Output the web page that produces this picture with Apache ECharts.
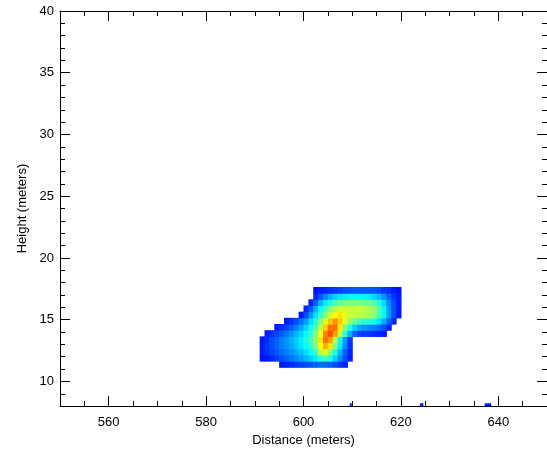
<!DOCTYPE html>
<html><head><meta charset="utf-8">
<script src="https://cdn.jsdelivr.net/npm/echarts@6/dist/echarts.min.js"></script>
<style>html,body{margin:0;padding:0;background:#fff}#c{width:547px;height:452px}</style>
</head><body><div id="c"></div>
<script>
// ---------- data ----------
const xMajorTicks = [560, 580, 600, 620, 640];
const yMajorTicks = [10, 15, 20, 25, 30, 35, 40];
const xRange = [550, 650];
const yRange = [8, 40];

// grid cell centers (meters) of the intensity field
const xCenters = [590.5,591.5,592.5,593.5,594.5,595.5,596.5,597.5,598.5,599.5,
                  600.5,601.5,602.5,603.5,604.5,605.5,606.5,607.5,608.5,609.5,
                  610.5,611.5,612.5,613.5,614.5,615.5,616.5,617.5,618.5,619.5];
const yCenters = [11.4,11.9,12.4,12.9,13.4,13.9,14.4,14.9,15.4,15.9,16.4,16.9,17.4];
const cellW = 1.0, cellH = 0.5;

const _ = null;
// normalized intensity, one array per height row (bottom to top)
const row11_4 = [_,_,_,_,_,.15,.16,.17,.18,.19,.20,.21,.22,.23,.23,.22,.20,.18,.16,_,_,_,_,_,_,_,_,_,_,_];
const row11_9 = [_,.14,.15,.16,.18,.20,.22,.24,.26,.28,.30,.33,.36,.42,.44,.40,.33,.26,.20,.15,_,_,_,_,_,_,_,_,_,_];
const row12_4 = [_,.15,.17,.19,.21,.23,.25,.27,.29,.31,.34,.38,.43,.55,.60,.50,.40,.30,.22,.16,_,_,_,_,_,_,_,_,_,_];
const row12_9 = [_,.15,.18,.20,.22,.25,.27,.29,.32,.35,.38,.43,.50,.62,.70,.65,.50,.36,.26,.17,_,_,_,_,_,_,_,_,_,_];
const row13_4 = [_,.15,.17,.20,.22,.25,.27,.30,.33,.36,.40,.45,.52,.65,.77,.72,.55,.40,.28,.18,_,_,_,_,_,_,_,_,_,_];
const row13_9 = [_,_,.15,.17,.19,.21,.24,.27,.30,.33,.37,.42,.50,.62,.75,.80,.72,.56,.42,.30,.22,.19,.18,.18,.17,.16,.15,_,_,_];
const row14_4 = [_,_,_,_,.15,.17,.19,.22,.25,.29,.33,.39,.46,.56,.67,.77,.77,.64,.50,.40,.33,.29,.27,.26,.25,.23,.20,.15,_,_];
const row14_9 = [_,_,_,_,_,_,.15,.17,.20,.24,.28,.34,.41,.50,.60,.68,.73,.68,.60,.52,.47,.44,.42,.41,.39,.35,.29,.22,.16,_];
const row15_4 = [_,_,_,_,_,_,_,_,_,.15,.20,.27,.35,.43,.50,.58,.63,.65,.60,.57,.56,.56,.55,.54,.51,.45,.37,.28,.20,.15];
const row15_9 = [_,_,_,_,_,_,_,_,_,_,.16,.22,.30,.38,.45,.50,.55,.58,.58,.57,.57,.57,.56,.55,.52,.46,.37,.28,.20,.15];
const row16_4 = [_,_,_,_,_,_,_,_,_,_,_,.16,.22,.30,.36,.41,.45,.48,.49,.50,.50,.50,.49,.48,.46,.41,.34,.26,.20,.15];
const row16_9 = [_,_,_,_,_,_,_,_,_,_,_,_,.16,.21,.26,.30,.33,.35,.36,.37,.37,.37,.37,.36,.34,.31,.27,.22,.18,.15];
const row17_4 = [_,_,_,_,_,_,_,_,_,_,_,_,.14,.15,.16,.17,.18,.19,.20,.20,.21,.21,.21,.21,.21,.20,.18,.17,.15,.14];
const fieldRows = [row11_4,row11_9,row12_4,row12_9,row13_4,row13_9,row14_4,row14_9,row15_4,row15_9,row16_4,row16_9,row17_4];

// small isolated returns near the ground
const speckX = [609.65, 624.2, 637.8];
const speckW = [0.3, 0.6, 1.2];
const speckY = [8.13, 8.13, 8.13];
const speckH = [0.2, 0.2, 0.2];
const speckV = [0.15, 0.15, 0.15];

// ---------- build ----------
const cells = [];
fieldRows.forEach((row, j) => {
  row.forEach((v, i) => {
    if (v !== null) cells.push([xCenters[i], yCenters[j], v, cellW, cellH]);
  });
});
speckX.forEach((x, k) => cells.push([x, speckY[k], speckV[k], speckW[k], speckH[k]]));

const jet = ['#000080','#0000ff','#0080ff','#00ffff','#80ff80','#ffff00','#ff8000','#ff0000','#800000'];

function renderItem(params, api) {
  const x = api.value(0), y = api.value(1), w = api.value(3), h = api.value(4);
  const p0 = api.coord([x - w / 2, y + h / 2]);
  const p1 = api.coord([x + w / 2, y - h / 2]);
  return {
    type: 'rect',
    shape: { x: p0[0], y: p0[1], width: p1[0] - p0[0] + 0.6, height: p1[1] - p0[1] + 0.6 },
    style: { fill: api.visual('color') }
  };
}

const font = { fontFamily: 'Liberation Sans', fontSize: 13, color: '#000' };
const line = { show: true, lineStyle: { color: '#000', width: 1 } };

function axisPair(pos, range, majors, minorInterval, withLabels, labelMargin, name, nameGap) {
  const major = {
    type: 'value', position: pos, min: range[0], max: range[1],
    axisLine: line,
    axisTick: { show: true, inside: true, length: 10, customValues: majors, lineStyle: { color: '#000', width: 1 } },
    axisLabel: withLabels ? Object.assign({ show: true, customValues: majors, margin: labelMargin }, font) : { show: false },
    splitLine: { show: false }
  };
  if (name) {
    major.name = name;
    major.nameLocation = 'middle';
    major.nameGap = nameGap;
    major.nameTextStyle = { fontFamily: 'Liberation Sans', fontSize: 13, color: '#000' };
  }
  const minor = {
    type: 'value', position: pos, min: range[0], max: range[1], interval: minorInterval,
    axisLine: { show: false },
    axisTick: { show: true, inside: true, length: 5, lineStyle: { color: '#000', width: 1 } },
    axisLabel: { show: false },
    splitLine: { show: false }
  };
  return [major, minor];
}

const xAxes = axisPair('bottom', xRange, xMajorTicks, 5, true, 10, 'Distance (meters)', 22)
  .concat(axisPair('top', xRange, xMajorTicks, 5, false));
const yAxes = axisPair('left', yRange, yMajorTicks, 1, true, 6, 'Height (meters)', 31)
  .concat(axisPair('right', yRange, yMajorTicks, 1, false));

const chart = echarts.init(document.getElementById('c'), null, { renderer: 'canvas' });
chart.setOption({
  animation: false,
  backgroundColor: '#fff',
  grid: { left: 60, top: 11, width: 492, height: 402, containLabel: false },
  xAxis: xAxes,
  yAxis: yAxes,
  visualMap: { show: false, type: 'continuous', min: 0, max: 1, dimension: 2, seriesIndex: 0, inRange: { color: jet } },
  series: [{
    type: 'custom',
    xAxisIndex: 0, yAxisIndex: 0,
    renderItem: renderItem,
    encode: { x: 0, y: 1 },
    clip: true,
    data: cells
  }]
});
</script>
</body></html>
